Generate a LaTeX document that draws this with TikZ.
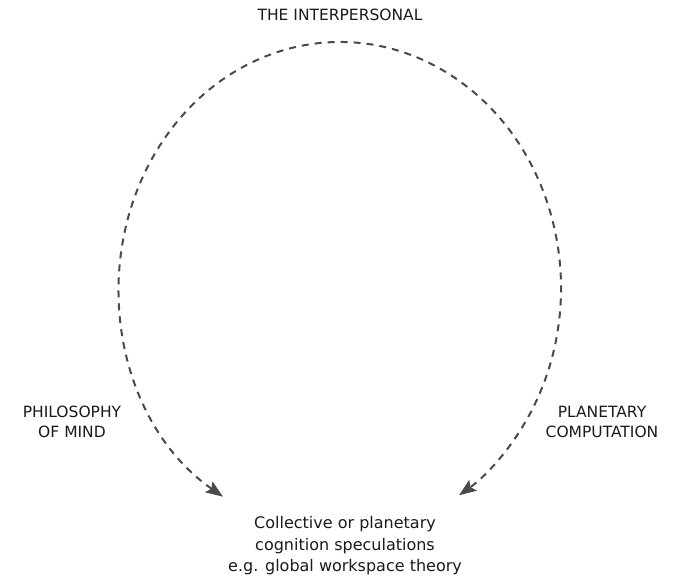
\documentclass[tikz,border=0pt]{standalone}
\usepackage{fontspec}
\setmainfont{DejaVu Sans}
\usetikzlibrary{arrows.meta}
\definecolor{linec}{HTML}{4A4A4A}
\definecolor{textc}{HTML}{1A1A1A}
\tikzset{
  lbl/.style={text=textc, font=\fontsize{15.5}{20}\selectfont, align=center, inner sep=0pt},
  conn/.style={draw=linec, line width=2pt, dash pattern=on 7pt off 6pt,
    {Stealth[length=17pt,width=13pt,inset=3pt]}-{Stealth[length=17pt,width=13pt,inset=3pt]}}
}
\begin{document}
\begin{tikzpicture}[x=1pt,y=-1pt]
\useasboundingbox (0,0) rectangle (684,579);
\coordinate (O) at (340,288);
\node[lbl] (top) at (340,15) {THE INTERPERSONAL};
\node[lbl] (phil) at (72,422) {PHILOSOPHY\\OF MIND};
\node[lbl] (plan) at (602,422) {PLANETARY\\COMPUTATION};
\node[lbl, font=\fontsize{16}{21.5}\selectfont] (target) at (345,546) {Collective or planetary\\cognition speculations\\e.g. global workspace theory};
\coordinate (L) at ([shift={(122:221 and 246)}]O);
\draw[conn] (L) arc[start angle=122, end angle=417.4, x radius=221, y radius=246];
\end{tikzpicture}
\end{document}
